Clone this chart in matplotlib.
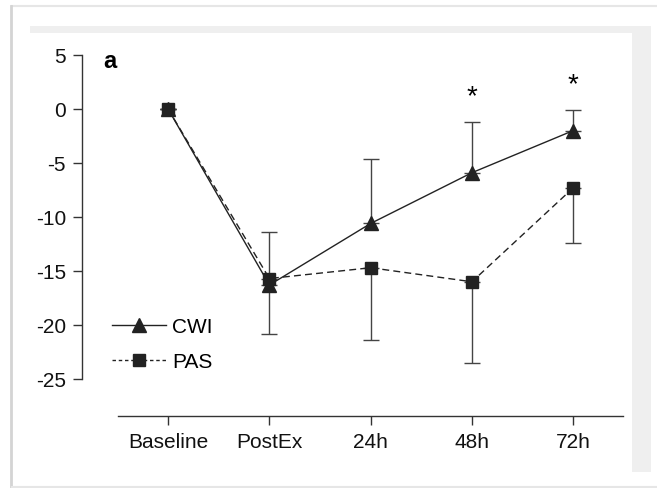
import matplotlib
matplotlib.use('Agg')
import matplotlib.pyplot as plt
from matplotlib.patches import Rectangle
from matplotlib.lines import Line2D

plt.rc('font', family='Liberation Sans')
plt.rc('axes', unicode_minus=False)

# data
timepoints = ['Baseline', 'PostEx', '24h', '48h', '72h']
cwi_mean = [0, -16.3, -10.6, -5.9, -2.0]
cwi_err_up = [0, 4.9, 6.0, 4.7, 1.9]
pas_mean = [0, -15.7, -14.7, -16.0, -7.3]
pas_err_down = [0, 5.1, 6.7, 7.5, 5.1]
star_points = [3, 4]
star_heights = [1.2, 2.3]

W, H = 657, 489
fig = plt.figure(figsize=(W / 100, H / 100), dpi=100)

def px_rect(x0, y0, x1, y1, **kw):
    # rectangle given in pixel coords (origin top-left)
    r = Rectangle((x0 / W, 1 - y1 / H), (x1 - x0) / W, (y1 - y0) / H,
                  transform=fig.transFigure, zorder=-5, **kw)
    fig.add_artist(r)

# page frame / shadow
px_rect(30, 27, 651, 473, facecolor='#efefef', edgecolor='none')
px_rect(30, 34, 632, 489, facecolor='white', edgecolor='none')
fig.add_artist(Line2D([12 / W, 1], [1 - 7 / H, 1 - 7 / H], transform=fig.transFigure,
                      color='#e6e6e6', lw=1.5, zorder=-4))
fig.add_artist(Line2D([11 / W, 11 / W], [0, 1 - 7 / H], transform=fig.transFigure,
                      color='#d4d4d4', lw=2, zorder=-4))
fig.add_artist(Line2D([12 / W, 1], [1.5 / H, 1.5 / H], transform=fig.transFigure,
                      color='#e6e6e6', lw=1.5, zorder=-4))

ax = fig.add_axes([82 / W, 1 - 417 / H, (634 - 82) / W, (417 - 56) / H])
ax.set_facecolor('none')

x = list(range(len(timepoints)))
dark = '#222222'

ax.errorbar(x, cwi_mean, yerr=[[0] * 5, cwi_err_up], color=dark, ecolor='#444444',
            lw=1.0, elinewidth=1.0, capsize=5.5, capthick=1.0,
            marker='^', markersize=9.5)
ax.errorbar(x, pas_mean, yerr=[pas_err_down, [0] * 5], color=dark, ecolor='#444444',
            lw=1.0, elinewidth=1.0, capsize=5.5, capthick=1.0,
            marker='s', markersize=9, linestyle=(0, (5, 3)))

for sx, sy in zip(star_points, star_heights):
    ax.text(sx, sy, '*', ha='center', va='center', fontsize=20, color='black')

ax.text(-0.64, 4.5, 'a', fontsize=17, fontweight='bold', ha='left', va='center')

ax.set_xlim(-0.85, 4.6)
ax.set_ylim(-28.43, 5)
ax.set_yticks([5, 0, -5, -10, -15, -20, -25])
ax.set_xticks(x)
ax.set_xticklabels(timepoints)

for s in ['top', 'right']:
    ax.spines[s].set_visible(False)
ax.spines['left'].set_bounds(-25, 5)
ax.spines['bottom'].set_bounds(-0.49, 4.49)
for s in ['left', 'bottom']:
    ax.spines[s].set_color('#333333')
    ax.spines[s].set_linewidth(1.0)
ax.tick_params(axis='both', direction='out', length=6.5, width=1.0, color='#333333',
               labelsize=15, pad=5, labelcolor='#111111')

handles = [Line2D([], [], color=dark, lw=1.0, marker='^', markersize=9.5),
           Line2D([], [], color=dark, lw=1.0, marker='s', markersize=9,
                  linestyle=(0, (2.5, 2)))]
ax.legend(handles, ['CWI', 'PAS'], loc='lower left', bbox_to_anchor=(0.054, 0.125),
          borderpad=0, borderaxespad=0, frameon=False, fontsize=15,
          handlelength=2.6, handletextpad=0.3, labelspacing=0.75)

fig.savefig('out.png', dpi=100)
